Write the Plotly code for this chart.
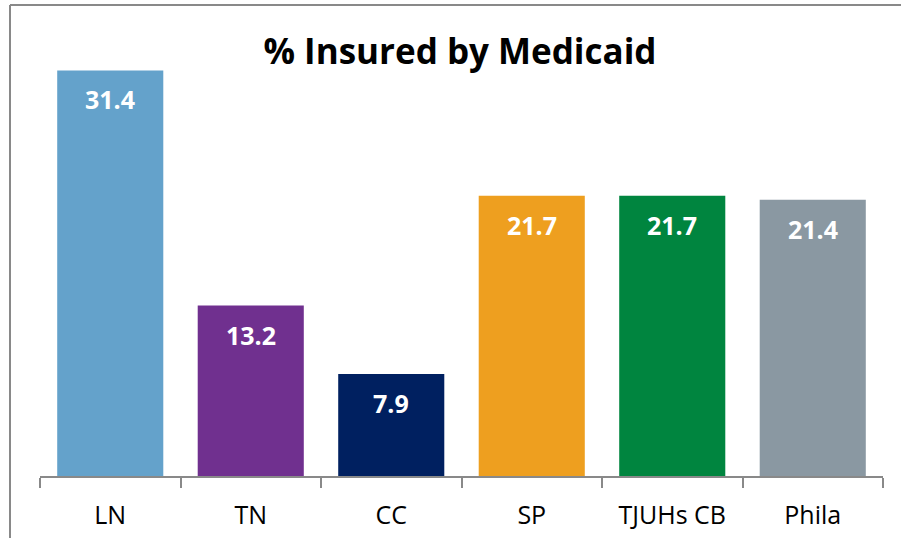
import plotly.graph_objects as go

categories = ["LN", "TN", "CC", "SP", "TJUHs CB", "Phila"]
values = [31.4, 13.2, 7.9, 21.7, 21.7, 21.4]
colors = ["#64A2CB", "#70308F", "#002060", "#EE9F1F", "#00853F", "#8A98A2"]
title_text = "% Insured by Medicaid"

FONT = "'Open Sans', Lato, sans-serif"

fig = go.Figure()
fig.add_trace(go.Bar(
    x=categories, y=values,
    marker=dict(color=colors, line=dict(width=0)),
    hoverinfo="x+y",
))

for c, v in zip(categories, values):
    fig.add_annotation(
        x=c, y=v, xref="x", yref="y",
        text=f"<b>{v:.1f}</b>", showarrow=False,
        yanchor="middle", yshift=-29,
        font=dict(family=FONT, size=25, color="white"),
    )

fig.update_layout(
    width=901, height=538,
    margin=dict(l=40, r=18, t=24, b=62, pad=0, autoexpand=False),
    paper_bgcolor="white", plot_bgcolor="white",
    bargap=0.245,
    showlegend=False,
    title=dict(
        text=f"<b>{title_text}</b>",
        x=460 / 901, xanchor="center", xref="container",
        y=1 - 52 / 538, yanchor="middle", yref="container",
        font=dict(family=FONT, size=35, color="black"),
    ),
    xaxis=dict(
        type="category", automargin=False,
        showline=True, linecolor="#898989", linewidth=2,
        ticks="outside", tickson="boundaries", ticklen=10,
        tickcolor="#898989", tickwidth=2,
        ticklabelstandoff=16,
        tickfont=dict(family=FONT, size=25, color="black"),
        showgrid=False, zeroline=False,
    ),
    yaxis=dict(
        range=[0, 35], visible=False, showgrid=False, zeroline=False,
        automargin=False,
    ),
    shapes=[
        dict(type="line", xref="paper", yref="paper",
             x0=(10 - 40) / 843, x1=(910 - 40) / 843,
             y0=1 + (24 - 5) / 452, y1=1 + (24 - 5) / 452,
             line=dict(color="#898989", width=2)),
        dict(type="line", xref="paper", yref="paper",
             x0=(10 - 40) / 843, x1=(10 - 40) / 843,
             y0=1 + (24 - 5) / 452, y1=-(70) / 452,
             line=dict(color="#898989", width=2)),
    ],
)

fig.write_html(
    "out.html",
    config={"displayModeBar": False},
    post_script="document.body.style.margin='0';document.body.style.overflow='hidden';",
)
